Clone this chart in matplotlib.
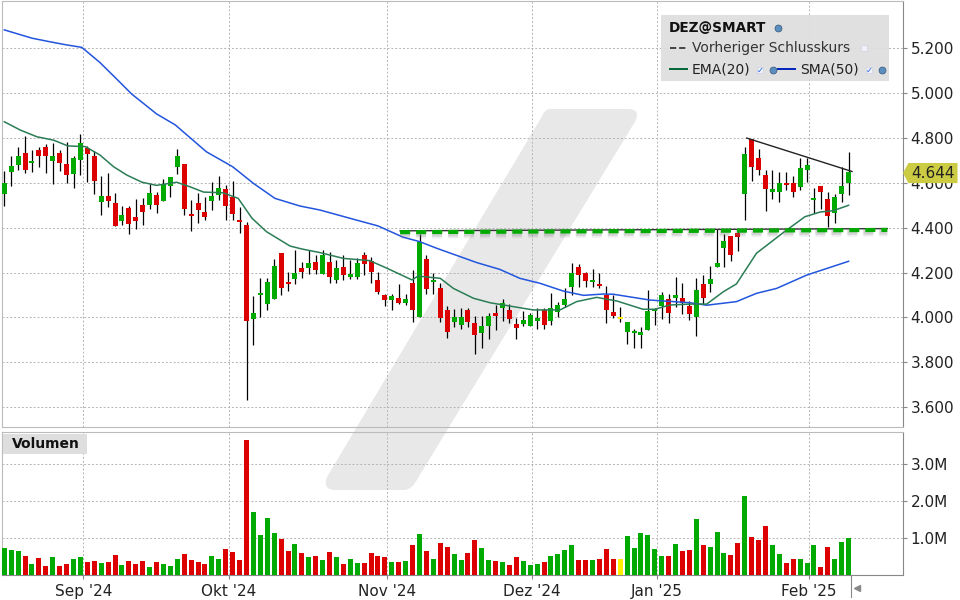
"""
DEZ@SMART daily candles with EMA, SMA and volume
"""
import matplotlib
matplotlib.use("Agg")
import matplotlib.pyplot as plt
from matplotlib.lines import Line2D
from matplotlib.patches import PathPatch, Polygon, Rectangle
from matplotlib.path import Path

# The candles, G = up, R = down, Y = unchanged
SIDES = ("GGGRGRRGRR" "GGRRGRRGRR" "RGRGGGRRRR" "GGRRRRGGGG" "RRGRGRGRGR"
         "GGRRRRGRGR" "GRGRRGGRRG" "GRGRRGGGRG" "GGGRRGRRRY" "GGGGGGRGRR"
         "GRGGGRRGRR" "RGGRRGGGRR" "GGG")
BODY_TOP = [4.599, 4.676, 4.721, 4.734, 4.699, 4.748, 4.761, 4.721, 4.734, 4.685,
            4.712, 4.779, 4.757, 4.721, 4.542, 4.542, 4.510, 4.457, 4.488, 4.448,
            4.501, 4.555, 4.546, 4.596, 4.627, 4.721, 4.685, 4.461, 4.510, 4.470,
            4.542, 4.578, 4.573, 4.537, 4.434, 4.412, 4.019, 4.108, 4.157, 4.228,
            4.286, 4.157, 4.197, 4.219, 4.241, 4.246, 4.277, 4.246, 4.219, 4.224,
            4.193, 4.241, 4.277, 4.250, 4.166, 4.099, 4.095, 4.086, 4.081, 4.153,
            4.335, 4.259, 4.166, 4.130, 4.033, 4.001, 4.001, 4.033, 3.975, 3.961,
            4.006, 4.019, 4.064, 4.033, 3.970, 3.988, 4.010, 3.997, 4.033, 4.041,
            4.055, 4.081, 4.197, 4.224, 4.197, 4.166, 4.148, 4.099, 4.024, 4.001,
            3.979, 3.939, 3.935, 4.028, 4.037, 4.100, 4.082, 4.100, 4.086, 4.051,
            4.122, 4.149, 4.171, 4.243, 4.341, 4.364, 4.377, 4.730, 4.796, 4.712,
            4.636, 4.574, 4.601, 4.601, 4.601, 4.668, 4.681, 4.534, 4.587, 4.529,
            4.538, 4.587, 4.650]
BODY_BOTTOM = [4.551, 4.649, 4.681, 4.658, 4.690, 4.721, 4.721, 4.699, 4.690, 4.636,
               4.640, 4.703, 4.730, 4.609, 4.515, 4.519, 4.407, 4.430, 4.416, 4.430,
               4.470, 4.501, 4.501, 4.519, 4.587, 4.672, 4.484, 4.452, 4.479, 4.448,
               4.519, 4.546, 4.497, 4.461, 4.425, 3.984, 3.993, 4.099, 4.059, 4.081,
               4.130, 4.148, 4.170, 4.201, 4.219, 4.210, 4.193, 4.179, 4.166, 4.188,
               4.179, 4.179, 4.237, 4.201, 4.113, 4.077, 4.077, 4.064, 4.064, 4.033,
               4.001, 4.126, 4.157, 3.997, 3.935, 3.979, 3.966, 3.979, 3.921, 3.930,
               3.961, 4.006, 4.041, 3.993, 3.953, 3.970, 3.961, 3.984, 3.966, 3.984,
               4.024, 4.055, 4.135, 4.188, 4.161, 4.157, 4.139, 4.033, 4.006, 3.993,
               3.935, 3.930, 3.921, 3.943, 4.030, 4.051, 4.019, 4.086, 4.064, 4.015,
               4.001, 4.086, 4.149, 4.225, 4.310, 4.279, 4.359, 4.551, 4.672, 4.659,
               4.574, 4.560, 4.560, 4.592, 4.560, 4.583, 4.659, 4.525, 4.560, 4.453,
               4.466, 4.551, 4.601]
HIGHS = [4.651, 4.721, 4.760, 4.810, 4.748, 4.760, 4.775, 4.779, 4.748, 4.784,
         4.721, 4.819, 4.766, 4.743, 4.631, 4.645, 4.555, 4.497, 4.497, 4.528,
         4.533, 4.596, 4.560, 4.618, 4.627, 4.752, 4.685, 4.524, 4.555, 4.537,
         4.604, 4.631, 4.591, 4.609, 4.493, 4.425, 4.095, 4.175, 4.175, 4.259,
         4.286, 4.201, 4.299, 4.246, 4.299, 4.277, 4.299, 4.290, 4.258, 4.277,
         4.255, 4.264, 4.290, 4.268, 4.201, 4.104, 4.104, 4.148, 4.104, 4.210,
         4.370, 4.277, 4.197, 4.153, 4.050, 4.037, 4.041, 4.041, 4.006, 4.006,
         4.019, 4.055, 4.081, 4.059, 3.997, 4.028, 4.019, 4.041, 4.041, 4.108,
         4.068, 4.130, 4.241, 4.237, 4.201, 4.215, 4.197, 4.139, 4.099, 4.046,
         3.979, 3.948, 3.957, 4.122, 4.040, 4.113, 4.104, 4.180, 4.154, 4.073,
         4.176, 4.189, 4.230, 4.395, 4.373, 4.364, 4.395, 4.762, 4.796, 4.753,
         4.659, 4.659, 4.650, 4.650, 4.632, 4.712, 4.712, 4.578, 4.587, 4.560,
         4.551, 4.672, 4.739]
LOWS = [4.497, 4.587, 4.658, 4.646, 4.649, 4.672, 4.645, 4.596, 4.654, 4.599,
        4.578, 4.636, 4.604, 4.551, 4.457, 4.493, 4.407, 4.412, 4.372, 4.394,
        4.412, 4.484, 4.466, 4.519, 4.537, 4.640, 4.457, 4.385, 4.421, 4.434,
        4.479, 4.524, 4.434, 4.434, 4.376, 3.633, 3.877, 4.000, 4.033, 4.081,
        4.099, 4.117, 4.148, 4.175, 4.193, 4.193, 4.193, 4.153, 4.153, 4.166,
        4.172, 4.170, 4.188, 4.153, 4.104, 4.050, 4.033, 4.059, 4.055, 3.979,
        4.001, 4.104, 4.104, 3.979, 3.908, 3.957, 3.948, 3.957, 3.837, 3.864,
        3.904, 3.944, 3.984, 3.975, 3.904, 3.961, 3.961, 3.948, 3.948, 3.966,
        4.001, 4.046, 4.099, 4.135, 4.135, 4.135, 4.130, 3.975, 3.997, 3.979,
        3.881, 3.864, 3.864, 3.943, 3.966, 3.993, 3.975, 4.046, 4.015, 3.988,
        3.917, 4.060, 4.113, 4.225, 4.225, 4.252, 4.297, 4.435, 4.610, 4.636,
        4.475, 4.529, 4.516, 4.569, 4.538, 4.569, 4.605, 4.466, 4.484, 4.404,
        4.422, 4.516, 4.547]

# Volume in millions
VOLUMES = [0.74, 0.68, 0.66, 0.52, 0.31, 0.47, 0.25, 0.50, 0.25, 0.31,
           0.44, 0.50, 0.36, 0.39, 0.33, 0.36, 0.55, 0.28, 0.39, 0.31,
           0.39, 0.23, 0.36, 0.31, 0.25, 0.44, 0.58, 0.41, 0.36, 0.31,
           0.52, 0.44, 0.71, 0.63, 0.41, 3.66, 1.71, 1.09, 1.55, 1.14,
           0.98, 0.66, 0.85, 0.60, 0.50, 0.52, 0.41, 0.63, 0.50, 0.31,
           0.44, 0.33, 0.33, 0.60, 0.52, 0.50, 0.36, 0.36, 0.39, 0.82,
           1.12, 0.66, 0.44, 0.87, 0.77, 0.58, 0.41, 0.60, 0.95, 0.74,
           0.41, 0.39, 0.36, 0.28, 0.50, 0.39, 0.28, 0.31, 0.36, 0.52,
           0.58, 0.68, 0.82, 0.41, 0.41, 0.41, 0.44, 0.71, 0.44, 0.44,
           1.06, 0.74, 1.14, 1.09, 0.71, 0.52, 0.52, 0.85, 0.66, 0.68,
           1.52, 0.82, 0.77, 1.17, 0.60, 0.55, 0.87, 2.14, 1.04, 0.95,
           1.33, 0.82, 0.58, 0.33, 0.44, 0.44, 0.33, 0.82, 0.23, 0.77,
           0.44, 0.90, 1.01]

SMA_X = [0, 4.0, 6.6, 9.0, 11.2, 13.8, 16.0, 18.4, 22.0, 24.7, 29.2, 33.0, 36.0,
         39.1, 42.7, 45.6, 50.9, 54.0, 57.6, 60.0, 62.5, 68.3, 71.6, 74.5, 77.4,
         80.8, 83.7, 86.6, 88.0, 93.3, 99.1, 101.5, 105.8, 108.7, 111.6, 116.0, 122.0]
SMA_Y = [5.283, 5.246, 5.230, 5.216, 5.205, 5.138, 5.071, 4.997, 4.908, 4.859, 4.739,
         4.672, 4.598, 4.531, 4.497, 4.479, 4.434, 4.408, 4.358, 4.338, 4.308, 4.244,
         4.214, 4.174, 4.152, 4.117, 4.098, 4.104, 4.103, 4.077, 4.065, 4.054, 4.070,
         4.107, 4.129, 4.189, 4.250]
EMA_X = [0, 2.3, 4.7, 7.1, 9.2, 11.7, 13.8, 15.8, 17.7, 19.9, 22.0, 24.9, 26.8, 28.8,
         31.6, 33.8, 35.8, 37.9, 41.3, 43.0, 45.6, 49.0, 52.8, 55.3, 58.9, 59.8, 63.0,
         64.9, 67.8, 70.2, 73.1, 76.4, 80.3, 82.7, 85.6, 88.5, 92.3, 94.0, 96.2, 99.1,
         101.5, 103.9, 105.8, 108.7, 112.6, 115.7, 117.9, 119.8, 122.0]
EMA_Y = [4.873, 4.836, 4.806, 4.791, 4.765, 4.762, 4.725, 4.672, 4.635, 4.603, 4.589,
         4.603, 4.583, 4.559, 4.556, 4.531, 4.442, 4.382, 4.318, 4.305, 4.289, 4.263,
         4.253, 4.219, 4.167, 4.184, 4.174, 4.129, 4.085, 4.065, 4.050, 4.033, 4.033,
         4.070, 4.089, 4.073, 4.036, 4.036, 4.055, 4.059, 4.059, 4.114, 4.149, 4.286,
         4.379, 4.449, 4.470, 4.476, 4.500]

# Drawn trend lines
RESISTANCE_X = [107.3, 122.5]
RESISTANCE_Y = [4.800, 4.651]
SUPPORT_X = [57.2, 127.6]
SUPPORT_Y = [4.386, 4.396]

# The axes
PRICE_TICKS = [3.6, 3.8, 4.0, 4.2, 4.4, 4.6, 4.8, 5.0, 5.2]
VOLUME_TICKS = [1, 2, 3]
VOLUME_LABELS = ["1.0M", "2.0M", "3.0M"]
MONTH_TICKS = [11.4, 32.4, 55.3, 76.3, 94.3, 116.3]
MONTH_LABELS = ["Sep '24", "Okt '24", "Nov '24", "Dez '24", "Jan '25", "Feb '25"]
LAST_PRICE = 4.644

COLORS = {"G": "#00aa00", "R": "#dd0000", "Y": "#ffee00"}
GRID = {"color": "#b4b4b4", "linewidth": 0.7, "linestyle": (0, (2, 2))}
TEXT = "#222222"


def frac(x, y):
    """Pixel position of the 960x600 picture to figure fraction"""
    return x / 960, 1 - y / 600


def add_panel(top, bottom):
    """Add an axes between two pixel rows"""
    left, right = 1.5, 903
    ax = fig.add_axes([left / 960, 1 - bottom / 600, (right - left) / 960, (bottom - top) / 600])
    ax.patch.set_visible(False)
    ax.set_xlim(-0.405, 129.87)
    ax.set_axisbelow(True)
    ax.grid(True, **GRID)
    ax.yaxis.tick_right()
    ax.tick_params(axis="y", length=3, width=0.8, color="#888888", pad=2.5, labelsize=11, labelcolor=TEXT)
    ax.tick_params(axis="x", length=3, width=0.8, color="#888888", pad=3, labelsize=11, labelcolor=TEXT)
    ax.set_xticks(MONTH_TICKS)
    ax.spines["left"].set_color("#bbbbbb")
    ax.spines["top"].set_color("#bbbbbb")
    ax.spines["right"].set_color("#888888")
    ax.spines["bottom"].set_color("#bbbbbb")
    return ax


fig = plt.figure(figsize=(9.6, 6), dpi=100, facecolor="white")

# The slash watermark behind both panels
corners = [(550, 109), (628, 109), (640, 109), (636, 120), (418, 478), (412, 490), (404, 490),
           (336, 490), (322, 490), (327, 477), (541, 118), (545, 109), (550, 109)]
codes = [Path.MOVETO, Path.LINETO, Path.CURVE3, Path.CURVE3, Path.LINETO, Path.CURVE3, Path.CURVE3,
         Path.LINETO, Path.CURVE3, Path.CURVE3, Path.LINETO, Path.CURVE3, Path.CURVE3]
fig.add_artist(PathPatch(Path([frac(*p) for p in corners], codes), transform=fig.transFigure,
                         facecolor="#e8e8e8", edgecolor="none", zorder=-1))

ax_price = add_panel(1, 427.3)
ax_volume = add_panel(432.3, 575.3)
ax_volume.spines["bottom"].set_color("#888888")

index = list(range(len(SIDES)))
colors = [COLORS[side] for side in SIDES]

# Price panel
ax_price.set_ylim(3.509, 5.412)
ax_price.set_yticks(PRICE_TICKS, [f"{tick:.3f}" for tick in PRICE_TICKS])
ax_price.tick_params(axis="x", length=0, labelbottom=False)
ax_price.vlines(index, LOWS, HIGHS, color="black", linewidth=0.9, zorder=2)
ax_price.bar(index, [t - b for t, b in zip(BODY_TOP, BODY_BOTTOM)], bottom=BODY_BOTTOM,
             width=0.72, color=colors, zorder=3)
ax_price.plot(SMA_X, SMA_Y, color="#2255dd", linewidth=1.1, zorder=4)
ax_price.plot(EMA_X, EMA_Y, color="#2a7d55", linewidth=1.1, zorder=4)

# Trend lines, the support one is thick, dashed and has a soft shadow
ax_price.plot(RESISTANCE_X, RESISTANCE_Y, color="#222222", linewidth=1.0, zorder=5)
for drop, width, alpha in [(0.018, 5.5, 0.12), (0.016, 3.5, 0.22)]:
    shadow_y = [value - drop for value in SUPPORT_Y]
    ax_price.plot(SUPPORT_X, shadow_y, color="#777777", alpha=alpha, linewidth=width, zorder=4,
                  dashes=[7.2 / width, 4.3 / width])
ax_price.plot(SUPPORT_X, SUPPORT_Y, color="#333333", linewidth=1.0, zorder=5)
green_y = [value - 0.006 for value in SUPPORT_Y]
ax_price.plot(SUPPORT_X, green_y, color="#00aa00", linewidth=3.0, zorder=6,
              dashes=[2.4, 1.45])

# Last price tag, covers the top of the 4.600 label
tag_transform = ax_price.get_yaxis_transform()
tag = Polygon([(1.0, LAST_PRICE), (1.006, LAST_PRICE + 0.045), (1.0605, LAST_PRICE + 0.045),
               (1.0605, LAST_PRICE - 0.045), (1.006, LAST_PRICE - 0.045)],
              closed=True, transform=tag_transform, facecolor="#cccc44", edgecolor="none",
              clip_on=False, zorder=10)
ax_price.add_patch(tag)
ax_price.text(1.0335, LAST_PRICE, f"{LAST_PRICE:.3f}", transform=tag_transform, ha="center",
              va="center", fontsize=11, color=TEXT, clip_on=False, zorder=11)

# Volume panel
ax_volume.set_ylim(0, 3.865)
ax_volume.set_yticks(VOLUME_TICKS, VOLUME_LABELS)
ax_volume.set_xticklabels(MONTH_LABELS)
ax_volume.bar(index, VOLUMES, width=0.72, color=colors, zorder=3)
ax_volume.add_patch(Rectangle(frac(3.3, 454), 83.4 / 960, 20 / 600, transform=fig.transFigure,
                              facecolor="#dedede", edgecolor="none", zorder=5))
fig.text(*frac(12, 444.5), "Volumen", fontsize=10, fontweight="bold", color="#111111", va="center", zorder=6)

# End of the data marker below the axis
fig.add_artist(Line2D(*zip(frac(850.5, 575.3), frac(850.5, 597)), color="#888888", linewidth=0.8))
fig.add_artist(Line2D(*[[v] for v in frac(856.5, 588)], marker="<", markersize=4.5, color="#888888",
                      linestyle="none"))

# Legend box, drawn over the panels
fig.add_artist(Rectangle(frac(661, 81), 228 / 960, 66 / 600, transform=fig.transFigure,
                         facecolor="#dedede", edgecolor="none", alpha=0.92, zorder=5))
fig.text(*frac(669, 28), "DEZ@SMART", fontsize=9.8, fontweight="bold", color="#111111", va="center", zorder=6)
fig.text(*frac(692, 48), "Vorheriger Schlusskurs", fontsize=10, color="#333333", va="center", zorder=6)
fig.text(*frac(692, 69.5), "EMA(20)", fontsize=10, color=TEXT, va="center", zorder=6)
fig.text(*frac(800, 69.5), "SMA(50)", fontsize=10, color=TEXT, va="center", zorder=6)
fig.add_artist(Line2D(*zip(frac(670, 48), frac(687, 48)), color="#444444", linewidth=1.4,
                      linestyle=(0, (3.2, 1.5)), zorder=6))
fig.add_artist(Line2D(*zip(frac(670, 69), frac(687, 69)), color="#006633", linewidth=1.4, zorder=6))
fig.add_artist(Line2D(*zip(frac(778, 69), frac(795, 69)), color="#0022bb", linewidth=1.4, zorder=6))

# Globe buttons and tick boxes of the legend
for x, y in [(778, 28), (773, 70), (882, 70)]:
    fig.add_artist(Line2D(*[[v] for v in frac(x, y)], marker="o", markersize=5, color="#5b8fc0",
                          markeredgecolor="#335577", markeredgewidth=0.5, linestyle="none", zorder=7))
for x, y in [(760, 70), (869, 70), (864, 48)]:
    fig.add_artist(Line2D(*[[v] for v in frac(x, y)], marker="s", markersize=5, color="#eef0fa",
                          markeredgecolor="#ccccdd", markeredgewidth=0.4, linestyle="none", zorder=7))
for x, y in [(760, 70), (869, 70)]:
    fig.text(*frac(x, y), "\u2713", fontsize=6, color="#2266dd", ha="center", va="center", zorder=8)

plt.savefig("out.png", dpi=100)
